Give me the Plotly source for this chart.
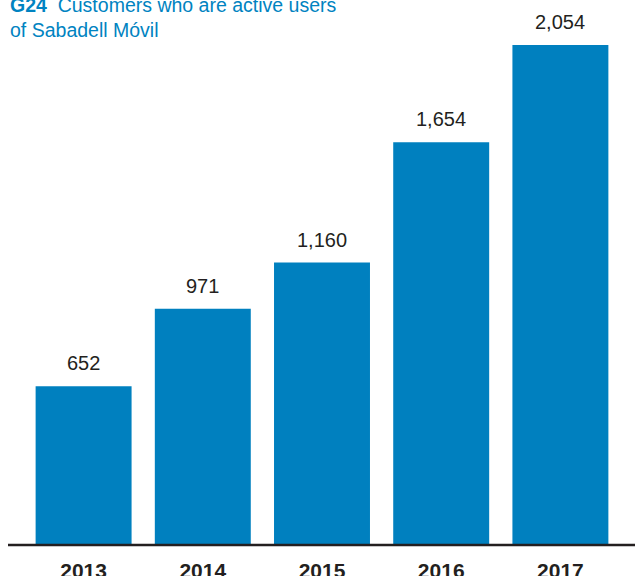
import plotly.graph_objects as go

years = ["2013", "2014", "2015", "2016", "2017"]
values = [652, 971, 1160, 1654, 2054]
labels = ["652", "971", "1,160", "1,654", "2,054"]

BLUE = "#0080bf"
DARK = "#231f20"
W, H = 635, 576
L, R, T, B = 24, 15, 45, 31
pw = W - L - R
ph = H - T - B

fig = go.Figure()
fig.add_trace(go.Bar(x=years, y=values, marker_color=BLUE, marker_line_width=0,
                     hoverinfo="skip"))

for i, (v, lab) in enumerate(zip(values, labels)):
    fig.add_annotation(x=i, y=v, text=lab, showarrow=False, yanchor="bottom",
                       yshift=10, font=dict(family="Liberation Sans, Arial", size=20, color=DARK))

fig.add_annotation(xref="paper", yref="paper", x=(8 - L) / pw, y=1 + 53 / ph,
                   xanchor="left", yanchor="top", align="left", showarrow=False,
                   text="<b>G24</b>  Customers who are active users<br>of Sabadell Móvil",
                   font=dict(family="Liberation Sans, Arial", size=19.5, color="#0083c1"))

fig.add_shape(type="line", xref="paper", yref="paper", x0=(8 - L) / pw, x1=(W - L) / pw,
              y0=0, y1=0, line=dict(color=DARK, width=2.5))

fig.update_layout(
    width=W, height=H, margin=dict(l=L, r=R, t=T, b=B, autoexpand=False),
    plot_bgcolor="white", paper_bgcolor="white", showlegend=False,
    bargap=0.195,
    xaxis=dict(type="category", range=[-0.5, 4.5], showline=False, showgrid=False,
               zeroline=False, ticks="outside", ticklen=7, tickcolor="rgba(0,0,0,0)",
               automargin=False,
               tickfont=dict(family="Liberation Sans, Arial", size=21, color=DARK),
               tickprefix="<b>", ticksuffix="</b>"),
    yaxis=dict(range=[0, 2054], visible=False, fixedrange=True, automargin=False),
)

fig.write_html("out.html")
